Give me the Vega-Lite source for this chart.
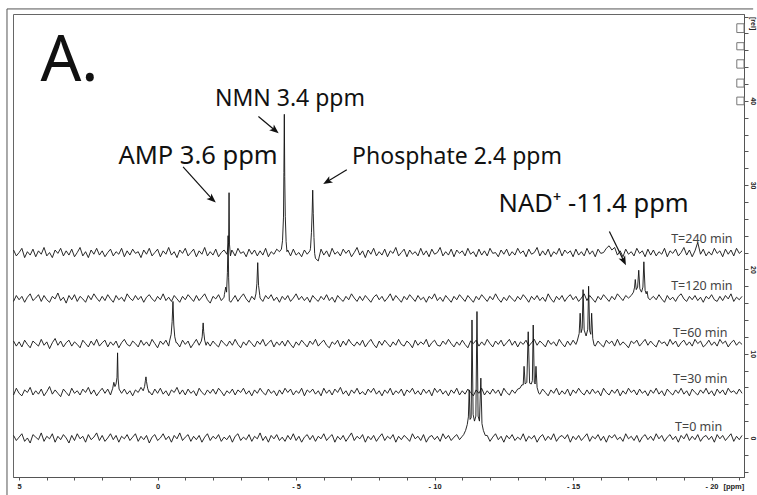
{
  "$schema": "https://vega.github.io/schema/vega-lite/v6.json",
  "width": 731,
  "height": 463,
  "autosize": {"type": "none"},
  "padding": {"left": 13, "top": 14, "right": 13, "bottom": 18},
  "background": "white",
  "config": {"view": {"stroke": "#666", "strokeWidth": 1}},
  "layer": [
    {
      "data": {"values": [
        {"x":5.2,"t0":0.3,"t30":5.1,"t60":11.5,"t120":16.2,"t240":22.3},
        {"x":5.1,"t0":-0.3,"t30":5.9,"t60":10.9,"t120":16.9,"t240":21.6},
        {"x":5.0,"t0":0.1,"t30":5.3,"t60":11.4,"t120":16.4,"t240":22.0},
        {"x":4.9,"t0":0.5,"t30":5.0,"t60":10.8,"t120":16.8,"t240":22.5},
        {"x":4.8,"t0":-0.4,"t30":5.7,"t60":11.6,"t120":16.1,"t240":21.4},
        {"x":4.7,"t0":0.0,"t30":5.4,"t60":11.1,"t120":16.7,"t240":22.1},
        {"x":4.6,"t0":-0.6,"t30":6.0,"t60":10.7,"t120":17.1,"t240":21.7},
        {"x":4.5,"t0":0.4,"t30":5.1,"t60":11.5,"t120":16.3,"t240":22.4},
        {"x":4.4,"t0":0.1,"t30":5.6,"t60":11.2,"t120":16.6,"t240":21.5},
        {"x":4.3,"t0":-0.2,"t30":5.2,"t60":10.9,"t120":17.0,"t240":22.2},
        {"x":4.2,"t0":0.6,"t30":5.8,"t60":11.7,"t120":16.2,"t240":21.8},
        {"x":4.1,"t0":-0.4,"t30":5.0,"t60":11.0,"t120":16.9,"t240":22.6},
        {"x":4.0,"t0":0.2,"t30":5.5,"t60":11.4,"t120":16.4,"t240":21.6},
        {"x":3.9,"t0":-0.1,"t30":6.1,"t60":10.6,"t120":16.1,"t240":22.0},
        {"x":3.8,"t0":0.5,"t30":5.2,"t60":11.3,"t120":16.8,"t240":21.4},
        {"x":3.7,"t0":-0.5,"t30":5.7,"t60":11.8,"t120":16.5,"t240":22.3},
        {"x":3.6,"t0":0.2,"t30":5.3,"t60":11.0,"t120":17.2,"t240":21.9},
        {"x":3.5,"t0":-0.2,"t30":4.9,"t60":11.5,"t120":16.3,"t240":22.5},
        {"x":3.4,"t0":0.4,"t30":5.8,"t60":10.8,"t120":16.7,"t240":21.6},
        {"x":3.3,"t0":0.0,"t30":5.4,"t60":11.3,"t120":16.0,"t240":22.2},
        {"x":3.2,"t0":-0.6,"t30":5.0,"t60":11.6,"t120":16.9,"t240":21.7},
        {"x":3.1,"t0":0.3,"t30":5.9,"t60":10.9,"t120":16.4,"t240":22.4},
        {"x":3.0,"t0":-0.3,"t30":5.3,"t60":11.4,"t120":17.0,"t240":21.5},
        {"x":2.9,"t0":0.5,"t30":5.6,"t60":11.1,"t120":16.2,"t240":22.0},
        {"x":2.8,"t0":-0.1,"t30":5.1,"t60":10.7,"t120":16.8,"t240":22.6},
        {"x":2.7,"t0":0.2,"t30":5.8,"t60":11.6,"t120":16.5,"t240":21.6},
        {"x":2.6,"t0":-0.5,"t30":5.4,"t60":11.2,"t120":16.1,"t240":22.1},
        {"x":2.5,"t0":0.4,"t30":6.0,"t60":10.8,"t120":16.9,"t240":21.4},
        {"x":2.4,"t0":-0.2,"t30":5.2,"t60":11.5,"t120":16.4,"t240":22.3},
        {"x":2.3,"t0":0.1,"t30":5.7,"t60":11.0,"t120":17.1,"t240":21.8},
        {"x":2.2,"t0":0.6,"t30":5.0,"t60":11.7,"t120":16.6,"t240":22.5},
        {"x":2.1,"t0":-0.3,"t30":5.5,"t60":10.9,"t120":16.2,"t240":21.7},
        {"x":2.0,"t0":0.3,"t30":5.9,"t60":11.3,"t120":16.8,"t240":22.2},
        {"x":1.9,"t0":-0.4,"t30":5.3,"t60":11.6,"t120":16.3,"t240":21.5},
        {"x":1.8,"t0":0.0,"t30":5.8,"t60":10.8,"t120":17.0,"t240":22.0},
        {"x":1.7,"t0":0.5,"t30":5.1,"t60":11.4,"t120":16.5,"t240":22.4},
        {"x":1.6,"t0":-0.2,"t60":11.0,"t120":16.1,"t240":21.6},
        {"x":1.5,"t0":0.3,"t60":11.5,"t120":16.9,"t240":22.1},
        {"x":1.4,"t0":-0.5,"t60":10.7,"t120":16.4,"t240":21.8},
        {"x":1.3,"t0":0.2,"t30":5.3,"t60":11.3,"t120":16.7,"t240":22.5},
        {"x":1.2,"t0":-0.1,"t30":5.8,"t60":11.7,"t120":16.2,"t240":21.5},
        {"x":1.1,"t0":0.4,"t30":5.2,"t60":11.1,"t120":17.1,"t240":22.2},
        {"x":1.0,"t0":-0.3,"t30":5.6,"t60":10.9,"t120":16.6,"t240":21.7},
        {"x":0.9,"t0":0.1,"t30":5.0,"t60":11.5,"t120":16.3,"t240":22.4},
        {"x":0.8,"t0":0.5,"t30":5.7,"t60":11.2,"t120":16.9,"t240":21.9},
        {"x":0.7,"t0":-0.4,"t30":5.4,"t60":10.8,"t120":16.4,"t240":22.1},
        {"x":0.6,"t0":0.2,"t30":6.0,"t60":11.6,"t120":16.8,"t240":21.4},
        {"x":0.5,"t0":-0.2,"t60":11.0,"t120":16.1,"t240":22.3},
        {"x":0.4,"t0":0.3,"t60":11.4,"t120":16.7,"t240":21.8},
        {"x":0.3,"t0":-0.6,"t30":5.5,"t60":10.9,"t120":17.0,"t240":22.5},
        {"x":0.2,"t0":0.1,"t30":5.1,"t60":11.7,"t120":16.5,"t240":21.6},
        {"x":0.1,"t0":0.4,"t30":5.8,"t60":11.2,"t120":16.2,"t240":22.0},
        {"x":0.0,"t0":-0.3,"t30":5.3,"t60":10.7,"t120":16.8,"t240":22.4},
        {"x":-0.1,"t0":0.0,"t30":5.9,"t60":11.5,"t120":16.4,"t240":21.5},
        {"x":-0.2,"t0":0.5,"t30":5.2,"t60":11.1,"t120":17.1,"t240":22.2},
        {"x":-0.3,"t0":-0.2,"t30":5.6,"t60":11.6,"t120":16.3,"t240":21.8},
        {"x":-0.4,"t0":0.2,"t30":5.0,"t60":10.9,"t120":16.7,"t240":22.6},
        {"x":-0.5,"t0":-0.5,"t30":5.7,"t120":16.2,"t240":21.7},
        {"x":-0.6,"t0":0.3,"t30":5.4,"t120":16.9,"t240":22.1},
        {"x":-0.7,"t0":-0.1,"t30":6.0,"t60":11.3,"t120":16.5,"t240":21.4},
        {"x":-0.8,"t0":0.6,"t30":5.2,"t60":10.8,"t120":16.1,"t240":22.3},
        {"x":-0.9,"t0":-0.3,"t30":5.7,"t60":11.6,"t120":16.8,"t240":21.9},
        {"x":-1.0,"t0":0.1,"t30":5.1,"t60":11.1,"t120":16.4,"t240":22.5},
        {"x":-1.1,"t0":0.4,"t30":5.8,"t60":11.5,"t120":17.0,"t240":21.6},
        {"x":-1.2,"t0":-0.4,"t30":5.3,"t60":10.7,"t120":16.6,"t240":22.0},
        {"x":-1.3,"t0":0.2,"t30":5.6,"t60":11.2,"t120":16.2,"t240":22.4},
        {"x":-1.4,"t0":-0.2,"t30":5.0,"t60":11.7,"t120":16.9,"t240":21.5},
        {"x":-1.5,"t0":0.3,"t30":5.9,"t60":11.0,"t120":16.3,"t240":22.2},
        {"x":-1.6,"t0":-0.5,"t30":5.4,"t120":16.7,"t240":21.8},
        {"x":-1.7,"t0":0.1,"t30":5.1,"t120":17.1,"t240":22.6},
        {"x":-1.8,"t0":0.5,"t30":5.7,"t60":11.4,"t120":16.4,"t240":21.6},
        {"x":-1.9,"t0":-0.3,"t30":5.3,"t60":10.9,"t120":16.0,"t240":22.1},
        {"x":-2.0,"t0":0.2,"t30":5.8,"t60":11.5,"t120":16.8,"t240":21.7},
        {"x":-2.1,"t0":-0.1,"t30":5.2,"t60":11.1,"t120":16.5,"t240":22.4},
        {"x":-2.2,"t0":0.4,"t30":5.9,"t60":10.8,"t120":17.0,"t240":21.5},
        {"x":-2.3,"t0":-0.4,"t30":5.5,"t60":11.6,"t120":16.3,"t240":22.0},
        {"x":-2.4,"t0":0.1,"t30":5.0,"t60":11.2,"t120":16.7,"t240":22.3},
        {"x":-2.5,"t0":-0.2,"t30":5.6,"t60":10.9,"t240":21.8},
        {"x":-2.6,"t0":0.3,"t30":5.3,"t60":11.5},
        {"x":-2.7,"t0":-0.5,"t30":5.8,"t60":11.0,"t120":16.4,"t240":22.2},
        {"x":-2.8,"t0":0.2,"t30":5.1,"t60":11.7,"t120":16.9,"t240":21.6},
        {"x":-2.9,"t0":0.5,"t30":5.7,"t60":11.1,"t120":16.2,"t240":22.5},
        {"x":-3.0,"t0":-0.3,"t30":5.4,"t60":10.7,"t120":16.7,"t240":21.9},
        {"x":-3.1,"t0":0.1,"t30":5.9,"t60":11.4,"t120":17.1,"t240":22.1},
        {"x":-3.2,"t0":-0.2,"t30":5.2,"t60":11.0,"t120":16.5,"t240":21.5},
        {"x":-3.3,"t0":0.4,"t30":5.6,"t60":11.6,"t120":16.1,"t240":22.4},
        {"x":-3.4,"t0":-0.4,"t30":5.0,"t60":11.2,"t120":16.8,"t240":21.8},
        {"x":-3.5,"t0":0.2,"t30":5.7,"t60":10.8,"t120":16.4,"t240":22.3},
        {"x":-3.6,"t0":-0.1,"t30":5.3,"t60":11.5,"t240":21.6},
        {"x":-3.7,"t0":0.6,"t30":5.9,"t60":11.1,"t120":16.6,"t240":22.2},
        {"x":-3.8,"t0":-0.3,"t30":5.4,"t60":11.7,"t120":16.2,"t240":21.7},
        {"x":-3.9,"t0":0.2,"t30":5.1,"t60":10.9,"t120":16.9,"t240":22.5},
        {"x":-4.0,"t0":-0.5,"t30":5.8,"t60":11.3,"t120":16.5,"t240":21.5},
        {"x":-4.1,"t0":0.3,"t30":5.3,"t60":11.6,"t120":17.0,"t240":22.1},
        {"x":-4.2,"t0":-0.1,"t30":5.6,"t60":10.8,"t120":16.3,"t240":21.8},
        {"x":-4.3,"t0":0.4,"t30":5.0,"t60":11.4,"t120":16.7,"t240":22.4},
        {"x":-4.4,"t0":-0.3,"t30":5.7,"t60":11.0,"t120":16.1,"t240":22.1},
        {"x":-4.5,"t0":0.1,"t30":5.2,"t60":11.5,"t120":16.8},
        {"x":-4.6,"t0":-0.4,"t30":5.9,"t60":10.9,"t120":16.4},
        {"x":-4.7,"t0":0.3,"t30":5.4,"t60":11.6,"t120":16.9,"t240":22.3},
        {"x":-4.8,"t0":-0.2,"t30":5.8,"t60":11.1,"t120":16.2,"t240":21.6},
        {"x":-4.9,"t0":0.5,"t30":5.1,"t60":10.7,"t120":16.6,"t240":22.4},
        {"x":-5.0,"t0":-0.3,"t30":5.6,"t60":11.4,"t120":17.1,"t240":21.7},
        {"x":-5.1,"t0":0.2,"t30":5.3,"t60":11.0,"t120":16.4,"t240":22.0},
        {"x":-5.2,"t0":-0.5,"t30":5.9,"t60":11.6,"t120":16.8,"t240":21.5},
        {"x":-5.3,"t0":0.1,"t30":5.0,"t60":11.2,"t120":16.3,"t240":22.3},
        {"x":-5.4,"t0":0.4,"t30":5.7,"t60":10.8,"t120":16.7,"t240":21.8},
        {"x":-5.5,"t0":-0.2,"t30":5.4,"t60":11.5,"t120":16.1,"t240":22.2},
        {"x":-5.6,"t0":0.3,"t30":5.8,"t60":11.1,"t120":16.9},
        {"x":-5.7,"t0":-0.4,"t30":5.2,"t60":11.7,"t120":16.5},
        {"x":-5.8,"t0":0.2,"t30":5.6,"t60":10.9,"t120":16.2,"t240":21.0},
        {"x":-5.9,"t0":-0.1,"t30":5.0,"t60":11.3,"t120":16.8,"t240":22.4},
        {"x":-6.0,"t0":0.5,"t30":5.9,"t60":11.6,"t120":16.4,"t240":21.7},
        {"x":-6.1,"t0":-0.3,"t30":5.3,"t60":11.0,"t120":17.0,"t240":22.2},
        {"x":-6.2,"t0":0.1,"t30":5.7,"t60":10.7,"t120":16.3,"t240":21.5},
        {"x":-6.3,"t0":0.4,"t30":5.1,"t60":11.4,"t120":16.7,"t240":22.5},
        {"x":-6.4,"t0":-0.5,"t30":5.8,"t60":11.1,"t120":16.1,"t240":21.8},
        {"x":-6.5,"t0":0.2,"t30":5.4,"t60":11.6,"t120":16.9,"t240":22.1},
        {"x":-6.6,"t0":-0.2,"t30":6.0,"t60":10.8,"t120":16.5,"t240":21.6},
        {"x":-6.7,"t0":0.3,"t30":5.2,"t60":11.5,"t120":16.2,"t240":22.4},
        {"x":-6.8,"t0":-0.4,"t30":5.6,"t60":11.0,"t120":16.8,"t240":21.9},
        {"x":-6.9,"t0":0.1,"t30":5.0,"t60":11.7,"t120":16.4,"t240":22.3},
        {"x":-7.0,"t0":0.6,"t30":5.7,"t60":11.2,"t120":17.1,"t240":21.5},
        {"x":-7.1,"t0":-0.3,"t30":5.3,"t60":10.9,"t120":16.6,"t240":22.0},
        {"x":-7.2,"t0":0.2,"t30":5.9,"t60":11.4,"t120":16.2,"t240":22.6},
        {"x":-7.3,"t0":-0.1,"t30":5.2,"t60":11.0,"t120":16.8,"t240":21.7},
        {"x":-7.4,"t0":0.4,"t30":5.5,"t60":11.6,"t120":16.3,"t240":22.2},
        {"x":-7.5,"t0":-0.5,"t30":5.1,"t60":10.8,"t120":16.9,"t240":21.4},
        {"x":-7.6,"t0":0.2,"t30":5.8,"t60":11.3,"t120":16.5,"t240":22.3},
        {"x":-7.7,"t0":-0.2,"t30":5.4,"t60":11.7,"t120":16.1,"t240":21.8},
        {"x":-7.8,"t0":0.3,"t30":5.9,"t60":11.1,"t120":16.7,"t240":22.5},
        {"x":-7.9,"t0":-0.4,"t30":5.2,"t60":10.7,"t120":17.0,"t240":21.6},
        {"x":-8.0,"t0":0.1,"t30":5.6,"t60":11.5,"t120":16.4,"t240":22.1},
        {"x":-8.1,"t0":0.5,"t30":5.0,"t60":11.0,"t120":16.8,"t240":21.7},
        {"x":-8.2,"t0":-0.3,"t30":5.7,"t60":11.6,"t120":16.2,"t240":22.4},
        {"x":-8.3,"t0":0.2,"t30":5.3,"t60":11.2,"t120":16.6,"t240":21.5},
        {"x":-8.4,"t0":-0.1,"t30":5.9,"t60":10.8,"t120":17.1,"t240":22.2},
        {"x":-8.5,"t0":0.4,"t30":5.1,"t60":11.4,"t120":16.3,"t240":21.9},
        {"x":-8.6,"t0":-0.5,"t30":5.6,"t60":11.0,"t120":16.9,"t240":22.6},
        {"x":-8.7,"t0":0.2,"t30":5.3,"t60":11.7,"t120":16.5,"t240":21.6},
        {"x":-8.8,"t0":-0.2,"t30":5.8,"t60":11.1,"t120":16.1,"t240":22.0},
        {"x":-8.9,"t0":0.3,"t30":5.0,"t60":10.9,"t120":16.8,"t240":22.4},
        {"x":-9.0,"t0":0.0,"t30":5.7,"t60":11.5,"t120":16.4,"t240":21.5},
        {"x":-9.1,"t0":-0.4,"t30":5.4,"t60":11.2,"t120":17.0,"t240":22.3},
        {"x":-9.2,"t0":0.5,"t30":5.9,"t60":10.7,"t120":16.6,"t240":21.8},
        {"x":-9.3,"t0":-0.1,"t30":5.2,"t60":11.6,"t120":16.2,"t240":22.1},
        {"x":-9.4,"t0":0.2,"t30":5.6,"t60":11.0,"t120":16.9,"t240":21.6},
        {"x":-9.5,"t0":-0.3,"t30":5.1,"t60":11.4,"t120":16.4,"t240":22.5},
        {"x":-9.6,"t0":0.4,"t30":5.8,"t60":11.1,"t120":16.7,"t240":21.7},
        {"x":-9.7,"t0":-0.5,"t30":5.3,"t60":11.7,"t120":16.1,"t240":22.2},
        {"x":-9.8,"t0":0.1,"t30":5.7,"t60":10.8,"t120":16.8,"t240":21.5},
        {"x":-9.9,"t0":0.3,"t30":5.0,"t60":11.3,"t120":16.5,"t240":22.4},
        {"x":-10.0,"t0":-0.2,"t30":5.9,"t60":11.6,"t120":17.1,"t240":21.8},
        {"x":-10.1,"t0":0.2,"t30":5.4,"t60":11.0,"t120":16.3,"t240":22.0},
        {"x":-10.2,"t0":-0.4,"t30":5.8,"t60":10.9,"t120":16.7,"t240":22.6},
        {"x":-10.3,"t0":0.5,"t30":5.2,"t60":11.5,"t120":16.2,"t240":21.6},
        {"x":-10.4,"t0":-0.1,"t30":5.6,"t60":11.1,"t120":16.9,"t240":22.1},
        {"x":-10.5,"t0":0.3,"t30":5.0,"t60":11.7,"t120":16.5,"t240":21.7},
        {"x":-10.6,"t0":-0.3,"t30":5.7,"t60":11.2,"t120":16.1,"t240":22.4},
        {"x":-10.7,"t0":0.1,"t30":5.3,"t60":10.8,"t120":16.8,"t240":21.5},
        {"x":-10.8,"t0":0.4,"t30":5.9,"t60":11.4,"t120":16.4,"t240":22.3},
        {"x":-10.9,"t0":-0.2,"t30":5.1,"t60":11.0,"t120":17.0,"t240":21.9},
        {"x":-11.0,"t0":0.2,"t30":5.6,"t60":11.6,"t120":16.6,"t240":22.2},
        {"x":-11.1,"t30":5.2,"t60":11.1,"t120":16.2,"t240":21.6},
        {"x":-11.2,"t30":5.8,"t60":10.7,"t120":16.9,"t240":22.5},
        {"x":-11.3,"t30":5.4,"t60":11.5,"t120":16.5,"t240":21.8},
        {"x":-11.4,"t30":5.0,"t60":11.2,"t120":16.1,"t240":22.1},
        {"x":-11.5,"t30":5.7,"t60":11.6,"t120":16.8,"t240":21.5},
        {"x":-11.6,"t30":5.3,"t60":10.9,"t120":16.4,"t240":22.4},
        {"x":-11.7,"t30":5.9,"t60":11.4,"t120":17.0,"t240":21.7},
        {"x":-11.8,"t30":5.1,"t60":11.0,"t120":16.6,"t240":22.2},
        {"x":-11.9,"t0":0.3,"t30":5.6,"t60":11.7,"t120":16.2,"t240":21.6},
        {"x":-12.0,"t0":-0.4,"t30":5.2,"t60":11.2,"t120":16.8,"t240":22.5},
        {"x":-12.1,"t0":0.1,"t30":5.8,"t60":10.8,"t120":16.4,"t240":21.9},
        {"x":-12.2,"t0":0.5,"t30":5.3,"t60":11.5,"t120":17.1,"t240":22.0},
        {"x":-12.3,"t0":-0.2,"t30":5.7,"t60":11.1,"t120":16.5,"t240":21.5},
        {"x":-12.4,"t0":0.2,"t30":5.0,"t60":11.6,"t120":16.1,"t240":22.3},
        {"x":-12.5,"t0":-0.5,"t30":5.9,"t60":10.9,"t120":16.7,"t240":21.8},
        {"x":-12.6,"t0":0.3,"t30":5.4,"t60":11.3,"t120":16.3,"t240":22.4},
        {"x":-12.7,"t0":-0.1,"t30":5.1,"t60":11.7,"t120":16.9,"t240":21.6},
        {"x":-12.8,"t0":0.4,"t30":5.7,"t60":11.0,"t120":16.5,"t240":22.1},
        {"x":-12.9,"t0":-0.3,"t30":5.3,"t60":11.5,"t120":16.2,"t240":21.7},
        {"x":-13.0,"t0":0.1,"t30":5.8,"t60":10.8,"t120":16.8,"t240":22.5},
        {"x":-13.1,"t0":-0.2,"t60":11.4,"t120":16.4,"t240":21.9},
        {"x":-13.2,"t0":0.5,"t60":11.1,"t120":17.0,"t240":22.2},
        {"x":-13.3,"t0":-0.4,"t60":11.6,"t120":16.6,"t240":21.5},
        {"x":-13.4,"t0":0.2,"t60":10.9,"t120":16.1,"t240":22.4},
        {"x":-13.5,"t0":-0.1,"t60":11.3,"t120":16.8,"t240":21.8},
        {"x":-13.6,"t0":0.3,"t60":11.7,"t120":16.4,"t240":22.0},
        {"x":-13.7,"t0":-0.5,"t60":11.0,"t120":16.9,"t240":22.6},
        {"x":-13.8,"t0":0.1,"t30":5.2,"t60":11.5,"t120":16.3,"t240":21.6},
        {"x":-13.9,"t0":0.4,"t30":5.8,"t60":11.2,"t120":16.7,"t240":22.2},
        {"x":-14.0,"t0":-0.3,"t30":5.4,"t60":10.8,"t120":16.2,"t240":21.7},
        {"x":-14.1,"t0":0.2,"t30":5.0,"t60":11.6,"t120":17.1,"t240":22.4},
        {"x":-14.2,"t0":-0.2,"t30":5.7,"t60":11.1,"t120":16.5,"t240":21.5},
        {"x":-14.3,"t0":0.5,"t30":5.3,"t60":11.4,"t120":16.1,"t240":22.1},
        {"x":-14.4,"t0":-0.4,"t30":5.9,"t60":10.9,"t120":16.8,"t240":21.8},
        {"x":-14.5,"t0":0.1,"t30":5.1,"t60":11.7,"t120":16.4,"t240":22.5},
        {"x":-14.6,"t0":0.3,"t30":5.6,"t60":11.2,"t120":16.9,"t240":21.6},
        {"x":-14.7,"t0":-0.1,"t30":5.2,"t60":10.8,"t120":16.2,"t240":22.3},
        {"x":-14.8,"t0":0.4,"t30":5.8,"t60":11.5,"t120":16.7,"t240":21.9},
        {"x":-14.9,"t0":-0.5,"t30":5.0,"t60":11.0,"t120":17.0,"t240":22.2},
        {"x":-15.0,"t0":0.2,"t30":5.7,"t60":11.6,"t120":16.4,"t240":21.5},
        {"x":-15.1,"t0":-0.2,"t30":5.3,"t60":11.1,"t120":16.8,"t240":22.4},
        {"x":-15.2,"t0":0.3,"t30":5.9,"t120":16.2,"t240":21.7},
        {"x":-15.3,"t0":-0.3,"t30":5.4,"t120":16.6,"t240":22.1},
        {"x":-15.4,"t0":0.1,"t30":5.1,"t120":17.1,"t240":21.6},
        {"x":-15.5,"t0":0.5,"t30":5.7,"t120":16.3,"t240":22.5},
        {"x":-15.6,"t0":-0.4,"t30":5.2,"t120":16.9,"t240":21.8},
        {"x":-15.7,"t0":0.2,"t30":5.8,"t120":16.5,"t240":22.2},
        {"x":-15.8,"t0":-0.1,"t30":5.3,"t60":10.9,"t120":16.1,"t240":21.5},
        {"x":-15.9,"t0":0.4,"t30":5.6,"t60":11.5,"t120":16.8,"t240":22.4},
        {"x":-16.0,"t0":-0.3,"t30":5.0,"t60":11.1,"t120":16.4,"t240":21.9},
        {"x":-16.1,"t0":0.2,"t30":5.9,"t60":10.8,"t120":17.0,"t240":22.0},
        {"x":-16.2,"t0":-0.5,"t30":5.4,"t60":11.6,"t120":16.6,"t240":22.5},
        {"x":-16.3,"t0":0.3,"t30":5.1,"t60":11.2,"t120":16.2,"t240":22.8},
        {"x":-16.4,"t0":0.0,"t30":5.7,"t60":11.5,"t120":16.8,"t240":22.3},
        {"x":-16.5,"t0":0.4,"t30":5.3,"t60":10.9,"t120":16.4,"t240":22.6},
        {"x":-16.6,"t0":-0.2,"t30":5.8,"t60":11.7,"t120":17.1,"t240":21.7},
        {"x":-16.7,"t0":0.1,"t30":5.0,"t60":11.0,"t120":16.7,"t240":22.2},
        {"x":-16.8,"t0":-0.4,"t30":5.6,"t60":11.4,"t120":16.3,"t240":21.5},
        {"x":-16.9,"t0":0.5,"t30":5.2,"t60":11.1,"t120":16.9,"t240":22.4},
        {"x":-17.0,"t0":-0.1,"t30":5.9,"t60":10.7,"t120":16.6,"t240":21.8},
        {"x":-17.1,"t0":0.2,"t30":5.4,"t60":11.5,"t240":22.1},
        {"x":-17.2,"t0":-0.3,"t30":5.7,"t60":11.2,"t240":21.6},
        {"x":-17.3,"t0":0.3,"t30":5.1,"t60":11.6,"t240":22.5},
        {"x":-17.4,"t0":-0.5,"t30":5.8,"t60":10.9,"t240":21.9},
        {"x":-17.5,"t0":0.1,"t30":5.3,"t60":11.3,"t240":22.2},
        {"x":-17.6,"t0":0.4,"t30":5.6,"t60":11.7,"t240":21.5},
        {"x":-17.7,"t0":-0.2,"t30":5.0,"t60":11.0,"t240":22.4},
        {"x":-17.8,"t0":0.2,"t30":5.7,"t60":11.5,"t120":16.5,"t240":21.7},
        {"x":-17.9,"t0":-0.3,"t30":5.3,"t60":11.1,"t120":16.8,"t240":22.3},
        {"x":-18.0,"t0":0.5,"t30":5.9,"t60":10.8,"t120":16.4,"t240":21.6},
        {"x":-18.1,"t0":-0.1,"t30":5.2,"t60":11.6,"t120":17.0,"t240":22.1},
        {"x":-18.2,"t0":0.3,"t30":5.6,"t60":11.2,"t120":16.5,"t240":21.8},
        {"x":-18.3,"t0":-0.4,"t30":5.0,"t60":11.4,"t120":16.1,"t240":22.5},
        {"x":-18.4,"t0":0.1,"t30":5.8,"t60":10.9,"t120":16.9,"t240":21.5},
        {"x":-18.5,"t0":0.4,"t30":5.4,"t60":11.7,"t120":16.4,"t240":22.2},
        {"x":-18.6,"t0":-0.2,"t30":5.1,"t60":11.1,"t120":16.7,"t240":21.9},
        {"x":-18.7,"t0":0.2,"t30":5.7,"t60":11.5,"t120":16.2,"t240":22.4},
        {"x":-18.8,"t0":-0.5,"t30":5.3,"t60":10.8,"t120":16.8,"t240":21.6},
        {"x":-18.9,"t0":0.3,"t30":5.9,"t60":11.3,"t120":17.1,"t240":22.0},
        {"x":-19.0,"t0":-0.1,"t30":5.2,"t60":11.6,"t120":16.5,"t240":22.6},
        {"x":-19.1,"t0":0.5,"t30":5.6,"t60":11.0,"t120":16.2,"t240":21.7},
        {"x":-19.2,"t0":-0.3,"t30":5.0,"t60":11.4,"t120":16.8,"t240":22.3},
        {"x":-19.3,"t0":0.2,"t30":5.8,"t60":10.9,"t120":16.4,"t240":21.5},
        {"x":-19.4,"t0":-0.2,"t30":5.4,"t60":11.7,"t120":16.9,"t240":22.2},
        {"x":-19.5,"t0":0.4,"t30":5.1,"t60":11.2,"t120":16.3,"t240":23.2},
        {"x":-19.6,"t0":-0.4,"t30":5.7,"t60":11.5,"t120":16.7,"t240":21.8},
        {"x":-19.7,"t0":0.1,"t30":5.3,"t60":10.8,"t120":16.1,"t240":22.4},
        {"x":-19.8,"t0":0.3,"t30":5.9,"t60":11.1,"t120":16.8,"t240":21.6},
        {"x":-19.9,"t0":-0.2,"t30":5.2,"t60":11.6,"t120":16.5,"t240":22.1},
        {"x":-20.0,"t0":0.2,"t30":5.6,"t60":11.0,"t120":17.0,"t240":21.7},
        {"x":-20.1,"t0":-0.5,"t30":5.0,"t60":11.4,"t120":16.4,"t240":22.5},
        {"x":-20.2,"t0":0.4,"t30":5.8,"t60":10.9,"t120":16.2,"t240":21.9},
        {"x":-20.3,"t0":-0.1,"t30":5.3,"t60":11.7,"t120":16.8,"t240":22.2},
        {"x":-20.4,"t0":0.3,"t30":5.7,"t60":11.2,"t120":16.3,"t240":21.5},
        {"x":-20.5,"t0":-0.3,"t30":5.1,"t60":11.5,"t120":16.9,"t240":22.4},
        {"x":-20.6,"t0":0.1,"t30":5.9,"t60":10.8,"t120":16.5,"t240":21.8},
        {"x":-20.7,"t0":0.5,"t30":5.4,"t60":11.3,"t120":17.1,"t240":22.3},
        {"x":-20.8,"t0":-0.4,"t30":5.6,"t60":11.6,"t120":16.2,"t240":21.6},
        {"x":-20.9,"t0":0.2,"t30":5.2,"t60":11.0,"t120":16.7,"t240":22.5},
        {"x":-21.0,"t0":-0.2,"t30":5.8,"t60":11.4,"t120":16.4,"t240":21.9},
        {"x":-21.1,"t0":0.3,"t30":5.3,"t60":11.1,"t120":16.8,"t240":22.2},

        {"x":-2.53,"t240":22.3},{"x":-2.565,"t240":23.2},{"x":-2.58,"t240":29.1},{"x":-2.595,"t240":23.0},{"x":-2.63,"t240":21.6},{"x":-2.68,"t240":22.3},
        {"x":-4.47,"t240":22.4},{"x":-4.51,"t240":23.4},{"x":-4.545,"t240":26.2},{"x":-4.56,"t240":31.5},{"x":-4.575,"t240":38.4},{"x":-4.59,"t240":31.0},{"x":-4.61,"t240":26.3},{"x":-4.64,"t240":23.3},{"x":-4.67,"t240":22.1},
        {"x":-5.52,"t240":22.5},{"x":-5.555,"t240":24.4},{"x":-5.58,"t240":26.8},{"x":-5.6,"t240":29.4},{"x":-5.62,"t240":26.6},{"x":-5.645,"t240":23.8},{"x":-5.67,"t240":21.9},{"x":-5.7,"t240":21.3},

        {"x":-2.41,"t120":17.0},{"x":-2.46,"t120":17.9},{"x":-2.49,"t120":17.3},{"x":-2.52,"t120":19.6},{"x":-2.545,"t120":24.0},{"x":-2.565,"t120":19.0},{"x":-2.59,"t120":16.3},{"x":-2.64,"t120":16.1},
        {"x":-3.55,"t120":17.1},{"x":-3.585,"t120":18.3},{"x":-3.615,"t120":20.8},{"x":-3.645,"t120":18.1},{"x":-3.69,"t120":16.9},
        {"x":-17.1,"t120":16.9},{"x":-17.18,"t120":17.3},{"x":-17.22,"t120":17.9},{"x":-17.245,"t120":18.8},{"x":-17.28,"t120":17.6},{"x":-17.33,"t120":17.9},{"x":-17.37,"t120":19.9},{"x":-17.41,"t120":17.7},{"x":-17.47,"t120":17.3},{"x":-17.52,"t120":17.9},{"x":-17.555,"t120":20.9},{"x":-17.6,"t120":17.5},{"x":-17.64,"t120":17.1},{"x":-17.67,"t120":17.4},{"x":-17.71,"t120":16.6},{"x":-17.78,"t120":16.4},

        {"x":-0.44,"t60":11.6},{"x":-0.49,"t60":12.3},{"x":-0.525,"t60":13.8},{"x":-0.555,"t60":16.2},{"x":-0.585,"t60":13.4},{"x":-0.62,"t60":12.0},{"x":-0.67,"t60":11.3},
        {"x":-1.58,"t60":11.5},{"x":-1.61,"t60":12.0},{"x":-1.63,"t60":13.0},{"x":-1.645,"t60":13.65},{"x":-1.665,"t60":12.6},{"x":-1.7,"t60":11.6},{"x":-1.75,"t60":11.0},
        {"x":-15.15,"t60":11.5},{"x":-15.22,"t60":12.4},{"x":-15.255,"t60":14.8},{"x":-15.29,"t60":12.5},{"x":-15.33,"t60":13.0},{"x":-15.36,"t60":17.6},{"x":-15.4,"t60":12.8},{"x":-15.47,"t60":12.1},{"x":-15.53,"t60":12.9},{"x":-15.56,"t60":18.0},{"x":-15.6,"t60":12.7},{"x":-15.64,"t60":12.3},{"x":-15.67,"t60":14.8},{"x":-15.71,"t60":11.8},{"x":-15.76,"t60":11.0},

        {"x":1.62,"t30":5.9},{"x":1.58,"t30":6.6},{"x":1.54,"t30":6.1},{"x":1.5,"t30":6.4},{"x":1.465,"t30":7.2},{"x":1.445,"t30":10.1},{"x":1.425,"t30":7.0},{"x":1.39,"t30":5.8},
        {"x":0.52,"t30":5.6},{"x":0.47,"t30":6.1},{"x":0.44,"t30":6.8},{"x":0.42,"t30":7.25},{"x":0.4,"t30":6.7},{"x":0.36,"t30":5.9},{"x":0.31,"t30":5.4},
        {"x":-13.08,"t30":5.9},{"x":-13.15,"t30":6.3},{"x":-13.2,"t30":6.3},{"x":-13.23,"t30":8.5},{"x":-13.27,"t30":6.4},{"x":-13.33,"t30":6.6},{"x":-13.38,"t30":12.6},{"x":-13.43,"t30":6.5},{"x":-13.49,"t30":6.4},{"x":-13.53,"t30":6.8},{"x":-13.56,"t30":13.4},{"x":-13.6,"t30":6.6},{"x":-13.63,"t30":6.4},{"x":-13.66,"t30":8.5},{"x":-13.7,"t30":6.0},{"x":-13.76,"t30":5.3},

        {"x":-11.05,"t0":0.4},{"x":-11.12,"t0":0.9},{"x":-11.18,"t0":1.6},{"x":-11.22,"t0":2.5},{"x":-11.25,"t0":5.7},{"x":-11.28,"t0":2.2},{"x":-11.32,"t0":2.4},{"x":-11.35,"t0":14.0},{"x":-11.39,"t0":2.8},{"x":-11.44,"t0":2.0},{"x":-11.49,"t0":2.6},{"x":-11.53,"t0":15.0},{"x":-11.57,"t0":2.6},{"x":-11.62,"t0":2.0},{"x":-11.67,"t0":7.1},{"x":-11.71,"t0":1.7},{"x":-11.76,"t0":0.9},{"x":-11.83,"t0":0.3}
      ]},
      "transform": [
        {"fold": ["t0", "t30", "t60", "t120", "t240"], "as": ["trace", "v"]},
        {"filter": "isValid(datum.v)"}
      ],
      "mark": {"type": "line", "stroke": "#111", "strokeWidth": 0.9},
      "encoding": {
        "x": {
          "field": "x", "type": "quantitative", "title": null,
          "scale": {"domain": [-21.17, 5.22], "reverse": true, "nice": false, "zero": false},
          "axis": {
            "title": null, "grid": false, "tickCount": 200,
            "values": [5,4,3,2,1,0,-1,-2,-3,-4,-5,-6,-7,-8,-9,-10,-11,-12,-13,-14,-15,-16,-17,-18,-19,-20,-21],
            "labelExpr": "datum.value == -21 ? '[ppm]' : (datum.value % 5 == 0 ? (datum.value < 0 ? '- ' + (-datum.value) : '' + datum.value) : '')",
            "labelOffset": {"condition": {"test": "datum.value < -20.5", "value": -6}, "value": 0},
            "domainColor": "#555", "tickColor": "#555", "tickSize": 3,
            "labelFont": "Liberation Sans", "labelFontSize": 7.5, "labelFontWeight": "bold", "labelColor": "#222",
            "labelPadding": 2, "labelOverlap": false, "labelFlush": false, "labelBound": false
          }
        },
        "y": {
          "field": "v", "type": "quantitative", "title": null,
          "scale": {"domain": [-4.63, 50.3], "nice": false, "zero": false},
          "axis": {
            "orient": "right", "title": null, "grid": false, "tickCount": 200,
            "values": [-4,-2,0,2,4,6,8,10,12,14,16,18,20,22,24,26,28,30,32,34,36,38,40,42,44,46,48,50],
            "labelExpr": "datum.value == 50 ? '[rel]' : (datum.value >= 0 && datum.value % 10 == 0 ? '' + datum.value : '')",
            "labelAngle": 90,
            "labelAlign": {"condition": {"test": "datum.value == 50", "value": "left"}, "value": "center"},
            "labelBaseline": "bottom",
            "domainColor": "#555", "tickColor": "#555", "tickSize": 4,
            "labelFont": "Liberation Sans", "labelFontSize": 7, "labelFontWeight": "bold", "labelColor": "#222",
            "labelPadding": 1, "labelOverlap": false, "labelFlush": false, "labelBound": false
          }
        },
        "detail": {"field": "trace"}
      }
    },
    {
      "data": {"values": [
        {"x": -20.91, "x2": -21.17, "y": 49.14, "y2": 48.1},
        {"x": -20.91, "x2": -21.17, "y": 46.9, "y2": 46.05},
        {"x": -20.91, "x2": -21.17, "y": 44.87, "y2": 43.88},
        {"x": -20.91, "x2": -21.17, "y": 42.58, "y2": 41.63},
        {"x": -20.91, "x2": -21.17, "y": 40.44, "y2": 39.53}
      ]},
      "mark": {"type": "rect", "fill": "white", "stroke": "#777", "strokeWidth": 1},
      "encoding": {
        "x": {"field": "x", "type": "quantitative", "title": null},
        "x2": {"field": "x2"},
        "y": {"field": "y", "type": "quantitative", "title": null},
        "y2": {"field": "y2"}
      }
    },
    {
      "data": {"values": [
        {"x": 5.437, "y": -6.8, "x2": 5.437, "y2": 50.9},
        {"x": 5.437, "y": 50.9, "x2": -21.5, "y2": 50.9}
      ]},
      "mark": {"type": "rule", "stroke": "#555", "strokeWidth": 1},
      "encoding": {
        "x": {"field": "x", "type": "quantitative", "title": null},
        "y": {"field": "y", "type": "quantitative", "title": null},
        "x2": {"field": "x2"},
        "y2": {"field": "y2"}
      }
    },
    {
      "data": {"values": [{"x": -0.92, "y": 32.17, "x2": -1.97, "y2": 28.33}]},
      "layer": [
        {"mark": {"type": "rule", "stroke": "#111", "strokeWidth": 1.2},
         "encoding": {"x": {"field": "x", "type": "quantitative", "title": null}, "y": {"field": "y", "type": "quantitative", "title": null}, "x2": {"field": "x2"}, "y2": {"field": "y2"}}},
        {"mark": {"type": "point", "shape": "M0,-1L0.75,0.9L0,0.45L-0.75,0.9Z", "filled": true, "fill": "#111", "size": 95, "opacity": 1, "angle": 131.9},
         "encoding": {"x": {"field": "x2", "type": "quantitative", "title": null}, "y": {"field": "y2", "type": "quantitative", "title": null}}}
      ]
    },
    {
      "data": {"values": [{"x": -3.64, "y": 38.14, "x2": -4.235, "y2": 36.51}]},
      "layer": [
        {"mark": {"type": "rule", "stroke": "#111", "strokeWidth": 1.2},
         "encoding": {"x": {"field": "x", "type": "quantitative", "title": null}, "y": {"field": "y", "type": "quantitative", "title": null}, "x2": {"field": "x2"}, "y2": {"field": "y2"}}},
        {"mark": {"type": "point", "shape": "M0,-1L0.75,0.9L0,0.45L-0.75,0.9Z", "filled": true, "fill": "#111", "size": 95, "opacity": 1, "angle": 129.7},
         "encoding": {"x": {"field": "x2", "type": "quantitative", "title": null}, "y": {"field": "y2", "type": "quantitative", "title": null}}}
      ]
    },
    {
      "data": {"values": [{"x": -6.83, "y": 31.81, "x2": -6.13, "y2": 30.42}]},
      "layer": [
        {"mark": {"type": "rule", "stroke": "#111", "strokeWidth": 1.2},
         "encoding": {"x": {"field": "x", "type": "quantitative", "title": null}, "y": {"field": "y", "type": "quantitative", "title": null}, "x2": {"field": "x2"}, "y2": {"field": "y2"}}},
        {"mark": {"type": "point", "shape": "M0,-1L0.75,0.9L0,0.45L-0.75,0.9Z", "filled": true, "fill": "#111", "size": 95, "opacity": 1, "angle": 239},
         "encoding": {"x": {"field": "x2", "type": "quantitative", "title": null}, "y": {"field": "y2", "type": "quantitative", "title": null}}}
      ]
    },
    {
      "data": {"values": [{"x": -16.31, "y": 24.49, "x2": -16.83, "y2": 21.01}]},
      "layer": [
        {"mark": {"type": "rule", "stroke": "#111", "strokeWidth": 1.2},
         "encoding": {"x": {"field": "x", "type": "quantitative", "title": null}, "y": {"field": "y", "type": "quantitative", "title": null}, "x2": {"field": "x2"}, "y2": {"field": "y2"}}},
        {"mark": {"type": "point", "shape": "M0,-1L0.75,0.9L0,0.45L-0.75,0.9Z", "filled": true, "fill": "#111", "size": 95, "opacity": 1, "angle": 153.8},
         "encoding": {"x": {"field": "x2", "type": "quantitative", "title": null}, "y": {"field": "y2", "type": "quantitative", "title": null}}}
      ]
    },
    {
      "data": {"values": [{"x": 3.18, "y": 42.3, "label": "A."}]},
      "mark": {"type": "text", "font": "Noto Sans", "fontSize": 64, "align": "center", "baseline": "alphabetic", "color": "#111"},
      "encoding": {
        "x": {"field": "x", "type": "quantitative", "title": null},
        "y": {"field": "y", "type": "quantitative", "title": null},
        "text": {"field": "label"}
      }
    },
    {
      "data": {"values": [
        {"x": -4.78, "y": 39.4, "label": "NMN 3.4 ppm"},
        {"x": -10.81, "y": 32.5, "label": "Phosphate 2.4 ppm"}
      ]},
      "mark": {"type": "text", "font": "Noto Sans", "fontSize": 23, "align": "center", "baseline": "alphabetic", "color": "#111"},
      "encoding": {
        "x": {"field": "x", "type": "quantitative", "title": null},
        "y": {"field": "y", "type": "quantitative", "title": null},
        "text": {"field": "label"}
      }
    },
    {
      "data": {"values": [
        {"x": -1.46, "y": 32.5, "label": "AMP 3.6 ppm"},
        {"x": -15.74, "y": 26.8, "label": "NAD⁺ -11.4 ppm"}
      ]},
      "mark": {"type": "text", "font": "Noto Sans", "fontSize": 25.5, "align": "center", "baseline": "alphabetic", "color": "#111"},
      "encoding": {
        "x": {"field": "x", "type": "quantitative", "title": null},
        "y": {"field": "y", "type": "quantitative", "title": null},
        "text": {"field": "label"}
      }
    },
    {
      "data": {"values": [
        {"x": -18.54, "y": 23.15, "label": "T=240 min"},
        {"x": -18.54, "y": 17.57, "label": "T=120 min"},
        {"x": -18.61, "y": 11.99, "label": "T=60 min"},
        {"x": -18.61, "y": 6.53, "label": "T=30 min"},
        {"x": -18.68, "y": 0.83, "label": "T=0 min"}
      ]},
      "mark": {"type": "text", "font": "Noto Sans", "fontSize": 12.5, "align": "left", "baseline": "alphabetic", "color": "#444"},
      "encoding": {
        "x": {"field": "x", "type": "quantitative", "title": null},
        "y": {"field": "y", "type": "quantitative", "title": null},
        "text": {"field": "label"}
      }
    }
  ]
}
